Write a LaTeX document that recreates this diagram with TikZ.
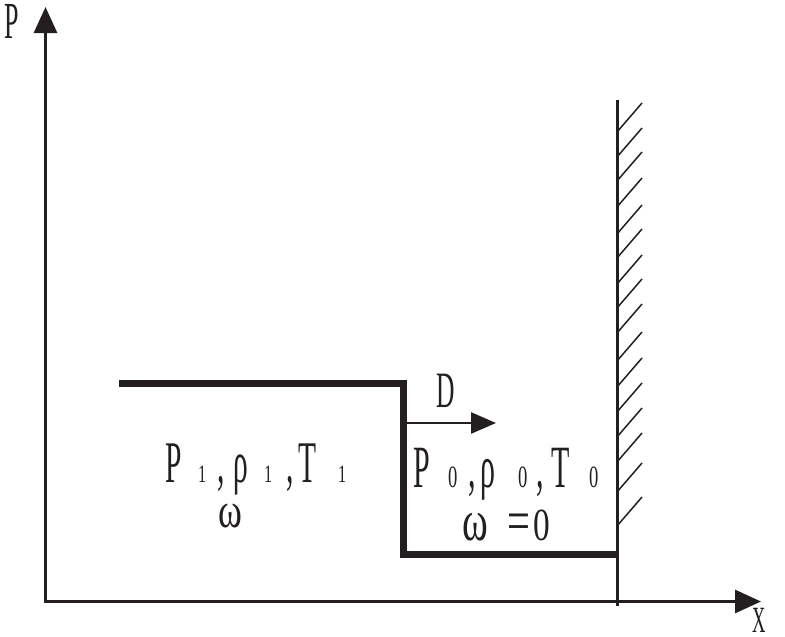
\documentclass[tikz,border=0pt]{standalone}
\usepackage{fontspec}
\usepackage{graphicx}
\usetikzlibrary{arrows.meta}
\newfontfamily\nf[FakeStretch=0.5]{Liberation Serif}
\newcommand{\fs}[1]{\fontsize{#1}{#1}\selectfont}
\newcommand{\gl}[2]{\rlap{#1}\hspace{#2pt}}
\definecolor{ink}{RGB}{35,31,32}
\begin{document}
\begin{tikzpicture}[x=1pt,y=-1pt,
  axis/.style={draw=ink,line width=3pt,-{Triangle[length=26pt,width=23pt]}},
  profile/.style={draw=ink,line width=7pt,line join=miter},
  wall/.style={draw=ink,line width=3pt},
  hatch/.style={draw=ink,line width=1.5pt},
  txt/.style={inner sep=0pt,outer sep=0pt,anchor=base west,text=ink,font=\nf}]
\useasboundingbox (0,0) rectangle (785,637);
\coordinate (O) at (45.5,601.5);
\coordinate (Ytip) at (45.5,7);
\coordinate (Xtip) at (761,601.5);
\draw[axis] (44,601.5) -- (Xtip);
\draw[axis] (O) -- (Ytip);
% pressure profile
\coordinate (A) at (119,383.5);
\coordinate (B) at (403,383.5);
\coordinate (C) at (403,554);
\coordinate (E) at (616,554);
\draw[profile] (A) -- (B) -- (C) -- (E);
% wall
\coordinate (W1) at (617,100);
\coordinate (W2) at (617,606);
\draw[wall] (W1) -- (W2);
\foreach \yy in {132,157,181,207,234,258,284,308,333,361,387,412,437,462,492,526}
  \draw[hatch] (617,\yy) -- ++(25,-29);
% D arrow
\coordinate (D1) at (403,423);
\coordinate (D2) at (496,423);
\draw[draw=ink,line width=2.5pt,-{Triangle[length=25pt,width=21pt]}] (D1) -- (D2);
\node[txt] (Dl) at (436,407) {\fs{51}D};
% axis labels
\node[txt] (Pl) at (5,38) {\fs{52}P};
\node[txt] (Xl) at (752,632) {\fs{37}X};
% state 1
\node[txt] (s1) at (165,482) {\fs{59}\gl{P}{33}\gl{\fs{25}\scalebox{1.3}[1]{1}}{19}\gl{,}{17}\gl{ρ}{30}\gl{\fs{25}\scalebox{1.3}[1]{1}}{22}\gl{,}{13}\gl{T}{39}\gl{\fs{25}\scalebox{1.3}[1]{1}}{0}};
\node[txt] (w1) at (218,527) {\fs{50}\scalebox{1.45}[1]{ω}};
% state 0
\node[txt] (s0) at (413,487) {\fs{60}\gl{P}{35}\gl{\fs{31}\scalebox{1.2}[1]{0}}{20}\gl{,}{12}\gl{ρ}{38}\gl{\fs{31}\scalebox{1.2}[1]{0}}{18}\gl{,}{15}\gl{T}{38}\gl{\fs{31}\scalebox{1.2}[1]{0}}{0}};
\node[txt] (w0) at (462,540) {\fs{58}\gl{\scalebox{1.35}[1]{ω}}{45}\gl{\scalebox{1.4}[1]{=}}{26}\fs{46}\scalebox{1.45}[1]{0}};
\end{tikzpicture}
\end{document}
